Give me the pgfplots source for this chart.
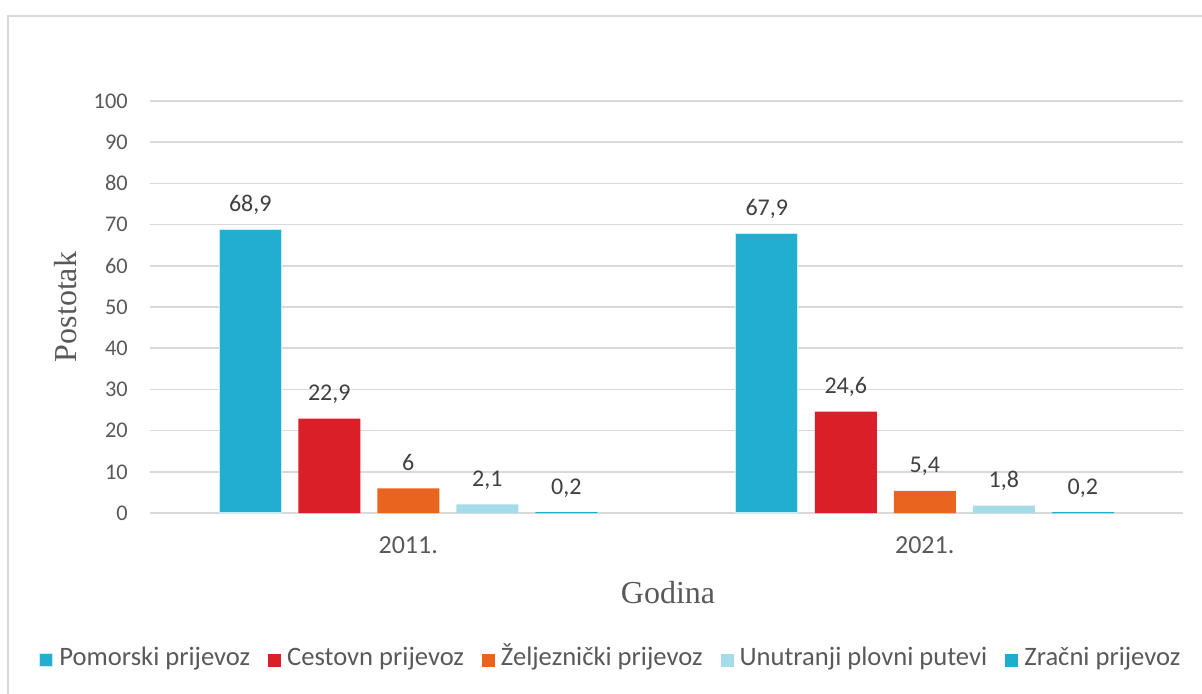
\documentclass[border=0pt]{standalone}
\usepackage{pgfplots}
\pgfplotsset{compat=1.18}
\usepackage{fontspec}
\setmainfont{Carlito}
\newfontfamily\serifttl{Liberation Serif}
\definecolor{cPom}{HTML}{21AECF}
\definecolor{cCes}{HTML}{DA1F28}
\definecolor{cZel}{HTML}{E9641F}
\definecolor{cUnu}{HTML}{A6DBE9}
\definecolor{cZra}{HTML}{1EADCE}
\definecolor{gridc}{HTML}{D9D9D9}
\definecolor{txtc}{HTML}{595959}
\definecolor{lblc}{HTML}{404040}
\begin{document}
\begin{tikzpicture}
\path[use as bounding box] (-75pt,-90pt) rectangle (526pt,256.5pt);
\draw[gridc, line width=0.75pt] (-71pt,-120pt) -- (-71pt,248.5pt) -- (560pt,248.5pt);
\begin{axis}[
  at={(0,0)}, anchor=south west,
  scale only axis, width=516.5pt, height=206pt,
  xmin=-0.5, xmax=1.5, ymin=0, ymax=100,
  ybar=8.5pt, bar width=31pt,
  xtick={0,1}, xticklabels={2011.,2021.},
  ytick={0,10,...,100},
  major tick length=0pt,
  axis line style={draw=none},
  ymajorgrids, grid style={gridc, line width=0.75pt},
  tick label style={text=txtc},
  /pgf/number format/assume math mode=true,
  /pgf/number format/use comma,
  yticklabel style={font=\fontsize{11.2}{13}\selectfont, xshift=-7.6pt},
  xticklabel style={font=\fontsize{13}{15}\selectfont, yshift=-8.2pt},
  xlabel={Godina}, ylabel={Postotak},
  every axis y label/.style={at={(axis description cs:-0.0813,0.5)}, rotate=90, anchor=center, font=\serifttl\fontsize{16}{19}\selectfont, text=txtc},
  every axis x label/.style={at={(axis description cs:0.5015,-0.194)}, anchor=center, font=\serifttl\fontsize{16}{19}\selectfont, text=txtc},
  nodes near coords,
  every node near coord/.append style={font=\fontsize{12}{14}\selectfont, text=lblc, anchor=base, yshift=9pt, inner sep=0pt},
  legend columns=5,
  legend style={draw=none, fill=none, at={(0.448,-0.357)}, anchor=center,
    font=\fontsize{13.3}{15}\selectfont, text=txtc,
    /tikz/every even column/.append style={column sep=6pt},
    nodes={inner xsep=3pt, text height=0.72em, text depth=0.22em}},
  legend image code/.code={\fill[#1] (0pt,-3.25pt) rectangle (6.5pt,3.25pt);},
]
\addplot[fill=cPom, draw={rgb,255:red,200;green,236;blue,246}, line width=0.6pt] coordinates {(0,68.9) (1,67.9)};
\addplot[fill=cCes, draw=none] coordinates {(0,22.9) (1,24.6)};
\addplot[fill=cZel, draw=none] coordinates {(0,6) (1,5.4)};
\addplot[fill=cUnu, draw=none] coordinates {(0,2.1) (1,1.8)};
\addplot[fill=cZra, draw=none] coordinates {(0,0.2) (1,0.2)};
\legend{Pomorski prijevoz, Cestovn prijevoz, Željeznički prijevoz, Unutranji plovni putevi, Zračni prijevoz}
\end{axis}
\end{tikzpicture}
\end{document}
